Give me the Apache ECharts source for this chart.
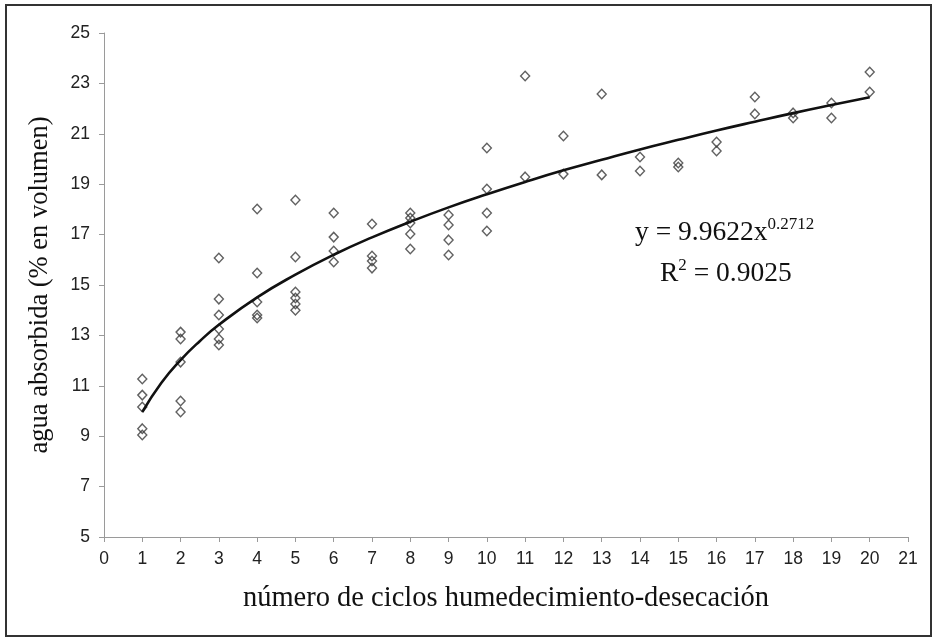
<!DOCTYPE html>
<html><head><meta charset="utf-8">
<script src="https://cdn.jsdelivr.net/npm/echarts@6/dist/echarts.min.js"></script>
<style>html,body{margin:0;padding:0;background:#fff}#c{width:936px;height:641px}</style>
</head><body><div id="c"></div>
<script>
// Observed data: cycles (x) and absorbed water % (y)
const cycles = [1,1,1,1,1, 2,2,2,2,2, 3,3,3,3,3,3, 4,4,4,4,4, 5,5,5,5,5,5, 6,6,6,6, 7,7,7,7, 8,8,8,8,8, 9,9,9,9, 10,10,10,10, 11,11, 12,12, 13,13, 14,14, 15,15, 16,16, 17,17, 18,18, 19,19, 20,20];
const water = [11.27,10.63,10.16,9.3,9.05, 13.13,12.86,11.94,10.4,9.96, 16.07,14.44,13.81,13.25,12.86,12.62, 18.02,15.48,14.33,13.81,13.69, 18.37,16.11,14.72,14.48,14.25,14.0, 17.86,16.9,16.35,15.91, 17.42,16.15,15.95,15.67, 17.86,17.66,17.46,17.02,16.43, 17.78,17.38,16.79,16.19, 20.44,18.81,17.86,17.14, 23.29,19.29, 20.91,19.40, 22.58,19.37, 20.08,19.52, 19.84,19.68, 20.67,20.32, 22.46,21.79, 21.83,21.63, 22.22,21.63, 23.45,22.66];
// Trend line values as drawn (power fit shown in chart)
const trendX = [1,1.5,2,2.5,3,4,5,6,7,8,9,10,11,12,13,14,15,16,17,18,19,20];
const trendY = [9.96,11.12,12.02,12.77,13.42,14.51,15.41,16.20,16.89,17.51,18.08,18.60,19.09,19.55,19.97,20.38,20.76,21.13,21.48,21.82,22.14,22.45];
const xTicks = {min:0, max:21, step:1};
const yTicks = {min:5, max:25, step:2};
const xTitle = 'número de ciclos humedecimiento-desecación';
const yTitle = 'agua absorbida (% en volumen)';

const chart = echarts.init(document.getElementById('c'), null, {renderer:'canvas'});
const axisLab = {color:'#222', fontFamily:'Liberation Sans, Arial, sans-serif', fontSize:17.5};
const serif = 'Liberation Serif, Times New Roman, serif';
chart.setOption({
  animation:false,
  backgroundColor:'#fff',
  grid:{left:104, right:28, top:33, bottom:104, containLabel:false},
  xAxis:{type:'value', min:xTicks.min, max:xTicks.max, interval:xTicks.step,
    name:xTitle, nameLocation:'middle', nameGap:47,
    nameTextStyle:{fontFamily:serif, fontSize:28.5, color:'#111'},
    axisLine:{lineStyle:{color:'#9a9a9a', width:1}},
    axisTick:{show:true, length:5, lineStyle:{color:'#9a9a9a'}},
    axisLabel:Object.assign({margin:13}, axisLab),
    splitLine:{show:false}},
  yAxis:{type:'value', min:yTicks.min, max:yTicks.max, interval:yTicks.step,
    name:yTitle, nameLocation:'middle', nameGap:50, nameRotate:90,
    nameTextStyle:{fontFamily:serif, fontSize:26.5, color:'#111'},
    axisLine:{show:true, lineStyle:{color:'#9a9a9a', width:1}},
    axisTick:{show:true, length:5, lineStyle:{color:'#9a9a9a'}},
    axisLabel:Object.assign({margin:14}, axisLab),
    splitLine:{show:false}},
  series:[
    {type:'scatter', symbol:'diamond', symbolSize:[9,9.5],
      itemStyle:{color:'rgba(0,0,0,0)', borderColor:'#3a3a3a', borderWidth:1.4},
      data:cycles.map((c,i)=>[c, water[i]]), z:2},
    {type:'line', smooth:true, symbol:'none',
      lineStyle:{color:'#111', width:2.6},
      data:trendX.map((c,i)=>[c, trendY[i]]), z:3}
  ],
  graphic:[
    {type:'rect', shape:{x:6, y:5, width:925, height:631}, style:{fill:'none', stroke:'#333', lineWidth:2}, silent:true},
    {type:'text', left:635, top:216, style:{
      rich:{b:{fontFamily:serif, fontSize:27.5, fill:'#111'},
            s:{fontFamily:serif, fontSize:17, fill:'#111', padding:[0,0,16,0]}},
      text:'{b|y = 9.9622x}{s|0.2712}'}},
    {type:'text', left:660, top:257, style:{
      rich:{b:{fontFamily:serif, fontSize:27.5, fill:'#111'},
            s:{fontFamily:serif, fontSize:17, fill:'#111', padding:[0,0,16,0]}},
      text:'{b|R}{s|2}{b| = 0.9025}'}}
  ]
});
</script></body></html>
